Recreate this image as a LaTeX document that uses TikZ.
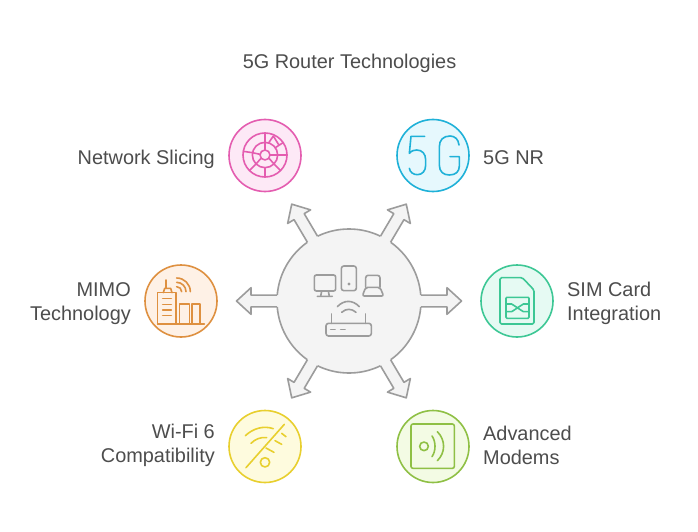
\documentclass[tikz,border=0pt]{standalone}
\usepackage{fontspec}
\setmainfont{Liberation Sans}
\definecolor{txt}{HTML}{4D4D4D}
\definecolor{hubS}{HTML}{9C9C9C}
\definecolor{hubF}{HTML}{F4F4F4}
\definecolor{pinkS}{HTML}{E45DB0}
\definecolor{pinkF}{HTML}{FDE9F6}
\definecolor{blueS}{HTML}{1FB1D8}
\definecolor{blueF}{HTML}{E6F8FD}
\definecolor{greenS}{HTML}{3DC795}
\definecolor{greenF}{HTML}{E6FAF3}
\definecolor{limeS}{HTML}{8FC045}
\definecolor{limeF}{HTML}{F3FBE4}
\definecolor{yelS}{HTML}{E8CF2E}
\definecolor{yelF}{HTML}{FEFBDE}
\definecolor{orS}{HTML}{DE9040}
\definecolor{orF}{HTML}{FEF1E6}
\tikzset{
  lbl/.style={text=txt,font=\fontsize{19.9}{24}\selectfont,inner sep=0pt},
  disc/.style={circle,draw=#1S,fill=#1F,line width=1.6pt,minimum size=72pt,inner sep=0pt},
  ico/.style={draw=#1S,line width=1.6pt,line cap=round,line join=round},
  hubdisc/.style={circle,draw=hubS,fill=hubF,line width=1.6pt,minimum size=144pt,inner sep=0pt},
  hubico/.style={draw=hubS,line width=1.6pt,line cap=round,line join=round},
}
\begin{document}
\begin{tikzpicture}[x=1pt,y=-1pt]
\useasboundingbox (0,0) rectangle (698,532);
\fill[white] (0,0) rectangle (698,532);
\node[lbl] (title) at (349.5,63) {5G Router Technologies};

% hub and arrows
\node[hubdisc] (hub) at (349,301) {};
\foreach \a in {0,59.4,120.6,180,239.4,300.6}{
  \begin{scope}[shift={(hub.center)},rotate=\a]
    \fill[hubF] (64,-5.9) -- (98,-5.9) -- (98,-13.3) -- (112.5,0) -- (98,13.3) -- (98,5.9) -- (64,5.9) -- cycle;
    \draw[hubS,line width=1.6pt,line join=round] (71.8,-5.9) -- (98,-5.9) -- (98,-13.3) -- (112.5,0) -- (98,13.3) -- (98,5.9) -- (71.8,5.9);
  \end{scope}
}
% hub icons
\begin{scope}[shift={(300,250)},scale=1/3]
  \draw[hubico,rounded corners=2pt] (43,75) rectangle (107,123);
  \draw[hubico] (65,123) -- (62,139) (85,123) -- (88,139) (52,139) -- (97,139);
  \draw[hubico,rounded corners=2.5pt] (124,48) rectangle (169,122);
  \fill[hubS] (147,102) circle (5);
  \draw[hubico,rounded corners=2.5pt] (197,112) -- (197,76) -- (240,76) -- (240,112);
  \draw[hubico,rounded corners=2pt] (197,112) -- (240,112) -- (251,138) -- (187,138) -- cycle;
  \draw[hubico] (112,170) .. controls (132,149) and (158,149) .. (178,170);
  \draw[hubico] (125,187) .. controls (138,175) and (155,175) .. (168,187);
  \draw[hubico,rounded corners=2.5pt] (78,220) rectangle (214,258);
  \draw[hubico] (95,192) -- (95,220) (197,192) -- (197,220);
  \draw[hubico] (92,238) -- (105,238) (122,238) -- (135,238);
\end{scope}

% Network Slicing
\node[disc=pink] (slice) at (265,155.5) {};
\node[lbl,anchor=east] (sliceL) at (215,159.5) {Network Slicing};
\begin{scope}[shift={(220,110)},scale=1/3]
  \draw[ico=pink] (135,135) circle (66) (135,135) circle (38) (135,135) circle (15);
  \draw[ico=pink] (135,69) -- (135,120) (135,173) -- (135,201)
    (70,124) -- (97,128) (150,135) -- (201,135)
    (88,182) -- (108,162) (162,162) -- (182,182)
    (97,128) -- (120,133)
    (122,146) -- (108,162) (148,146) -- (162,162)
    (147,97) -- (160,78) (166,113) -- (189,98) (160,78) -- (176,104);
\end{scope}

% 5G NR
\node[disc=blue] (fiveg) at (433,155.5) {};
\node[lbl,anchor=west] (fivegL) at (483,158) {5G NR};
\begin{scope}[shift={(390,110)},scale=1/3]
  \draw[ico=blue] (104,79) -- (63,79) -- (58,130) .. controls (65,122) and (72,120) .. (80,120)
     .. controls (97,120) and (107,132) .. (107,150) -- (107,165)
     .. controls (107,183) and (97,194) .. (82,194) .. controls (70,194) and (60,187) .. (58,175);
  \draw[ico=blue] (207,105) .. controls (205,88) and (195,78) .. (180,78)
     .. controls (160,78) and (148,90) .. (148,110) -- (148,165)
     .. controls (148,185) and (160,195) .. (178,195) .. controls (197,195) and (208,185) .. (208,168)
     -- (208,140) -- (180,140);
\end{scope}

% SIM
\node[disc=green] (sim) at (517,301) {};
\node[lbl,anchor=west,align=left] (simL) at (567,303) {SIM Card\\Integration};
\begin{scope}[shift={(470,255)},scale=1/3]
  \draw[ico=green,rounded corners=1.5pt] (90,68) -- (157,68) -- (192,105) -- (192,207) -- (90,207) -- cycle;
  \draw[ico=green,rounded corners=1pt] (108,127) rectangle (177,190);
  \draw[ico=green] (108,147) -- (125,147) -- (160,170) -- (177,170)
     (108,170) -- (125,170) -- (160,147) -- (177,147);
\end{scope}

% Modems
\node[disc=lime] (modem) at (433,446.5) {};
\node[lbl,anchor=west,align=left] (modemL) at (483,445) {Advanced\\Modems};
\begin{scope}[shift={(390,400)},scale=1/3]
  \draw[ico=lime,rounded corners=2pt] (63,72) rectangle (193,205);
  \draw[ico=lime] (102,139) circle (13);
  \draw[ico=lime] (126,108) .. controls (138,125) and (138,153) .. (126,170);
  \draw[ico=lime] (142,95) .. controls (167,120) and (167,158) .. (142,182);
\end{scope}

% Wi-Fi
\node[disc=yel] (wifi) at (265,446.5) {};
\node[lbl,anchor=east,align=right] (wifiL) at (215,445) {Wi-Fi 6\\Compatibility};
\begin{scope}[shift={(220,400)},scale=1/3]
  \draw[ico=yel] (193,73) -- (78,203);
  \draw[ico=yel] (76,107) .. controls (100,85) and (130,76) .. (160,86);
  \draw[ico=yel] (185,100) -- (198,110);
  \draw[ico=yel] (93,130) .. controls (105,118) and (122,110) .. (140,113);
  \draw[ico=yel] (165,122) -- (185,133);
  \draw[ico=yel] (138,144) -- (162,157);
  \draw[ico=yel] (135,187) circle (14);
\end{scope}

% MIMO
\node[disc=or] (mimo) at (181,301) {};
\node[lbl,anchor=east,align=right] (mimoL) at (131,303.5) {MIMO\\Technology};
\begin{scope}[shift={(136,255)},scale=1/3]
  \draw[ico=or] (65,207) -- (205,207);
  \draw[ico=or] (65,207) -- (65,113) -- (120,113) -- (120,207);
  \draw[ico=or] (82,113) -- (86,100) -- (104,100) -- (108,113);
  \draw[ico=or] (90,100) -- (90,75);
  \draw[ico=or] (80,130) -- (106,130) (80,148) -- (106,148) (80,165) -- (106,165) (80,182) -- (106,182);
  \draw[ico=or] (130,207) -- (130,147) -- (160,147) -- (160,207);
  \draw[ico=or] (168,207) -- (168,147) -- (192,147) -- (192,207);
  \draw[ico=or] (122,95) arc[start angle=-90,end angle=0,radius=15];
  \draw[ico=or] (122,82) arc[start angle=-90,end angle=0,radius=28];
  \draw[ico=or] (122,69) arc[start angle=-90,end angle=0,radius=41];
\end{scope}
\end{tikzpicture}
\end{document}
